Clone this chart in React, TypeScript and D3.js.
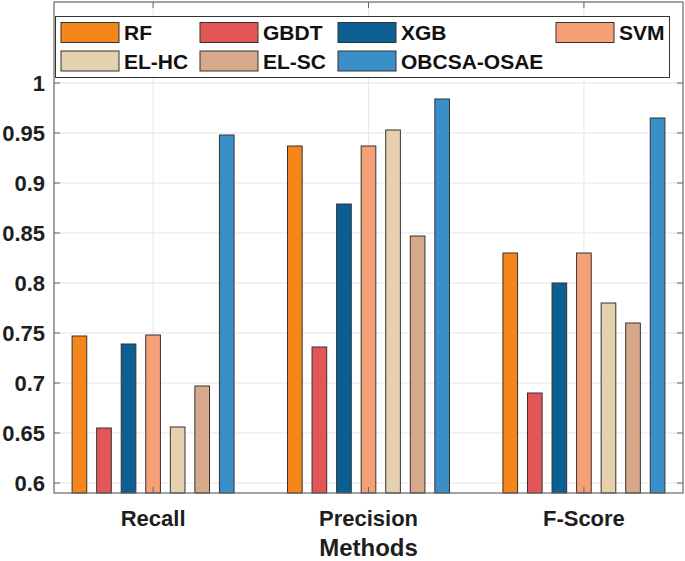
import React from "react";
import * as d3 from "d3";

const categories = ["Recall", "Precision", "F-Score"];
const seriesNames = ["RF", "GBDT", "XGB", "SVM", "EL-HC", "EL-SC", "OBCSA-OSAE"];
const seriesColors = ["#F5861A", "#E35656", "#0C5F93", "#F5A077", "#E6D1AF", "#D8A88A", "#3B8FC8"];
const rf = [0.747, 0.937, 0.83];
const gbdt = [0.655, 0.736, 0.69];
const xgb = [0.739, 0.879, 0.8];
const svm = [0.748, 0.937, 0.83];
const elhc = [0.656, 0.953, 0.78];
const elsc = [0.697, 0.847, 0.76];
const obcsa = [0.948, 0.984, 0.965];
const yTicks = [0.6, 0.65, 0.7, 0.75, 0.8, 0.85, 0.9, 0.95, 1];
const yTickLabels = ["0.6", "0.65", "0.7", "0.75", "0.8", "0.85", "0.9", "0.95", "1"];

const series = [rf, gbdt, xgb, svm, elhc, elsc, obcsa];

export default function App() {
  const W = 685, H = 561;
  const L = 54, R = 683, T = 2, B = 493;
  const y = d3.scaleLinear().domain([0.59, 1.081]).range([B, T]);
  const x = d3.scaleLinear().domain([0.54, 3.46]).range([L, R]);
  const step = 0.114;
  const bw = 0.068;
  const font = "'Liberation Sans', Arial, sans-serif";
  const txt = "#1e1e1e";
  const legendCols = [61, 200, 338, 556];
  const legendRows = [32.5, 61];
  return (
    <svg width={W} height={H} style={{ position: "absolute", left: 0, top: 0, background: "#fff" }} fontFamily={font}>
      <rect x={0} y={0} width={W} height={H} fill="#fff" />
      {yTicks.map((t, i) => (
        <line key={"g" + i} x1={L} x2={R} y1={y(t)} y2={y(t)} stroke="#e6e6ec" strokeWidth={1.2} />
      ))}
      {categories.map((c, i) => (
        <line key={"vg" + i} x1={x(i + 1)} x2={x(i + 1)} y1={T} y2={B} stroke="#e6e6ec" strokeWidth={1} />
      ))}
      {series.map((s, si) =>
        s.map((v, ci) => {
          const left = x(ci + 1 + (si - 3) * step - bw / 2);
          const right = x(ci + 1 + (si - 3) * step + bw / 2);
          return (
            <rect key={si + "-" + ci} x={left} y={y(v)} width={right - left} height={B - y(v)}
              fill={seriesColors[si]} stroke="#333" strokeWidth={1} />
          );
        })
      )}
      <rect x={L} y={T} width={R - L} height={B - T} fill="none" stroke="#666" strokeWidth={1.2} />
      {yTicks.map((t, i) => (
        <g key={"t" + i}>
          <line x1={L} x2={L + 6} y1={y(t)} y2={y(t)} stroke="#666" />
          <line x1={R} x2={R - 6} y1={y(t)} y2={y(t)} stroke="#666" />
          <text x={L - 9} y={y(t)} dy="0.36em" textAnchor="end" fontSize={22} fontWeight="bold" fill={txt}>
            {yTickLabels[i]}
          </text>
        </g>
      ))}
      {categories.map((c, i) => (
        <g key={"c" + i}>
          <line x1={x(i + 1)} x2={x(i + 1)} y1={B} y2={B - 6} stroke="#666" />
          <line x1={x(i + 1)} x2={x(i + 1)} y1={T} y2={T + 6} stroke="#666" />
          <text x={x(i + 1)} y={526} textAnchor="middle" fontSize={22} fontWeight="bold" fill={txt}>{c}</text>
        </g>
      ))}
      <text x={x(2)} y={556} textAnchor="middle" fontSize={24} fontWeight="bold" fill={txt}>Methods</text>
      <rect x={55.5} y={16.5} width={614} height={61} fill="#fff" stroke="#333" strokeWidth={1} />
      {seriesNames.map((n, i) => {
        const col = i < 4 ? i : i - 4;
        const row = i < 4 ? 0 : 1;
        const sx = legendCols[col];
        const sy = legendRows[row];
        return (
          <g key={"l" + i}>
            <rect x={sx} y={sy - 10} width={58} height={20} fill={seriesColors[i]} stroke="#333" strokeWidth={1} />
            <text x={sx + 63} y={sy} dy="0.36em" fontSize={21} fontWeight="bold" fill="#111">{n}</text>
          </g>
        );
      })}
    </svg>
  );
}
